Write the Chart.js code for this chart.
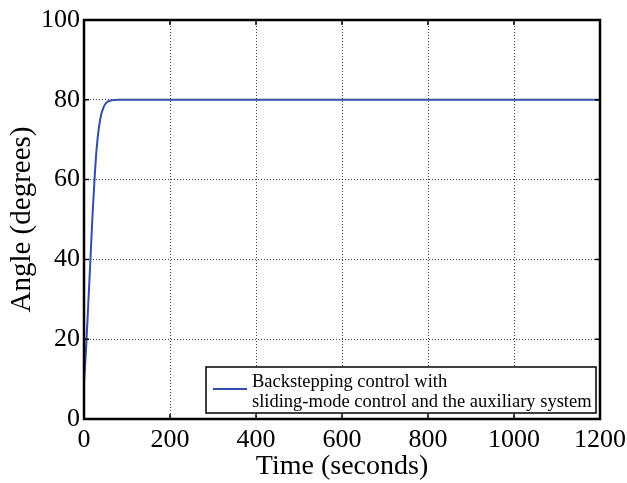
<!DOCTYPE html>
<html>
<head>
<meta charset="utf-8">
<script src="https://cdn.jsdelivr.net/npm/chart.js@4.4.0/dist/chart.umd.min.js"></script>
<style>
  html, body { margin: 0; padding: 0; background: #fff; }
  #wrap { width: 627px; height: 483px; }
</style>
</head>
<body>
<div id="wrap"><canvas id="chart"></canvas></div>
<script>
// values
const timeSec = [0, 5, 10, 15, 20, 25, 30, 35, 40, 45, 50, 55, 60, 70, 80, 100, 1200];
const angleDeg = [9.3, 18, 29, 40, 51.5, 61, 68.5, 73.3, 76.3, 78, 79, 79.5, 79.75, 79.95, 80, 80, 80];
const xTicks = [0, 200, 400, 600, 800, 1000, 1200];
const yTicks = [0, 20, 40, 60, 80, 100];
const legendLines = ['Backstepping control with', 'sliding-mode control and the auxiliary system'];

const serif = '"Liberation Serif", "Times New Roman", serif';
const lineColor = '#2f4fa8';

// MATLAB-like frame, inner ticks and boxed legend
const framePlugin = {
  id: 'frame',
  afterDraw(chart) {
    const { ctx, chartArea: a, scales } = chart;
    ctx.save();
    ctx.strokeStyle = '#000';
    ctx.lineWidth = 1.5;
    ctx.beginPath();
    xTicks.forEach(v => {
      const px = scales.x.getPixelForValue(v);
      ctx.moveTo(px, a.bottom); ctx.lineTo(px, a.bottom - 5);
      ctx.moveTo(px, a.top); ctx.lineTo(px, a.top + 5);
    });
    yTicks.forEach(v => {
      const py = scales.y.getPixelForValue(v);
      ctx.moveTo(a.left, py); ctx.lineTo(a.left + 5, py);
      ctx.moveTo(a.right, py); ctx.lineTo(a.right - 5, py);
    });
    ctx.stroke();
    ctx.lineWidth = 2.5;
    ctx.strokeRect(a.left, a.top, a.right - a.left, a.bottom - a.top);

    // legend box
    const bx = a.left + 122, by = a.bottom - 52;
    const bw = a.right - 4 - bx, bh = 46;
    ctx.fillStyle = '#fff';
    ctx.fillRect(bx, by, bw, bh);
    ctx.lineWidth = 1.5;
    ctx.strokeRect(bx, by, bw, bh);
    ctx.strokeStyle = lineColor;
    ctx.lineWidth = 2;
    ctx.beginPath();
    ctx.moveTo(bx + 7, by + 22); ctx.lineTo(bx + 41, by + 22);
    ctx.stroke();
    ctx.fillStyle = '#000';
    ctx.font = '18.5px ' + serif;
    ctx.textBaseline = 'alphabetic';
    ctx.fillText(legendLines[0], bx + 46, by + 20);
    ctx.fillText(legendLines[1], bx + 46, by + 40);
    ctx.restore();
  }
};

new Chart(document.getElementById('chart'), {
  type: 'line',
  data: {
    datasets: [{
      data: timeSec.map((t, i) => ({ x: t, y: angleDeg[i] })),
      borderColor: lineColor,
      borderWidth: 2,
      pointRadius: 0,
      cubicInterpolationMode: 'monotone',
      fill: false
    }]
  },
  options: {
    responsive: true,
    maintainAspectRatio: false,
    animation: false,
    layout: { padding: { top: 20, right: 27, left: 0, bottom: 0 } },
    plugins: { legend: { display: false }, tooltip: { enabled: false } },
    scales: {
      x: {
        type: 'linear',
        min: 0,
        max: 1200,
        afterBuildTicks: s => { s.ticks = xTicks.map(v => ({ value: v })); },
        afterFit: s => { s.height = 64; s.paddingRight = 0; s.paddingLeft = 0; },
        grid: { color: 'rgba(0,0,0,0.75)', lineWidth: 1, drawTicks: false },
        border: { display: false, dash: [1, 2] },
        ticks: { color: '#000', font: { family: serif, size: 26 }, padding: 6, maxRotation: 0, callback: v => String(v) },
        title: { display: true, text: 'Time (seconds)', color: '#000', font: { family: serif, size: 28 }, padding: { top: 0, bottom: 0 } }
      },
      y: {
        min: 0,
        max: 100,
        afterBuildTicks: s => { s.ticks = yTicks.map(v => ({ value: v })); },
        afterFit: s => { s.width = 84; },
        grid: { color: 'rgba(0,0,0,0.75)', lineWidth: 1, drawTicks: false },
        border: { display: false, dash: [1, 2] },
        ticks: { color: '#000', font: { family: serif, size: 26 }, padding: 4, callback: v => String(v) },
        title: { display: true, text: 'Angle (degrees)', color: '#000', font: { family: serif, size: 29 }, padding: { top: 5, bottom: 0 } }
      }
    }
  },
  plugins: [framePlugin]
});
</script>
</body>
</html>
